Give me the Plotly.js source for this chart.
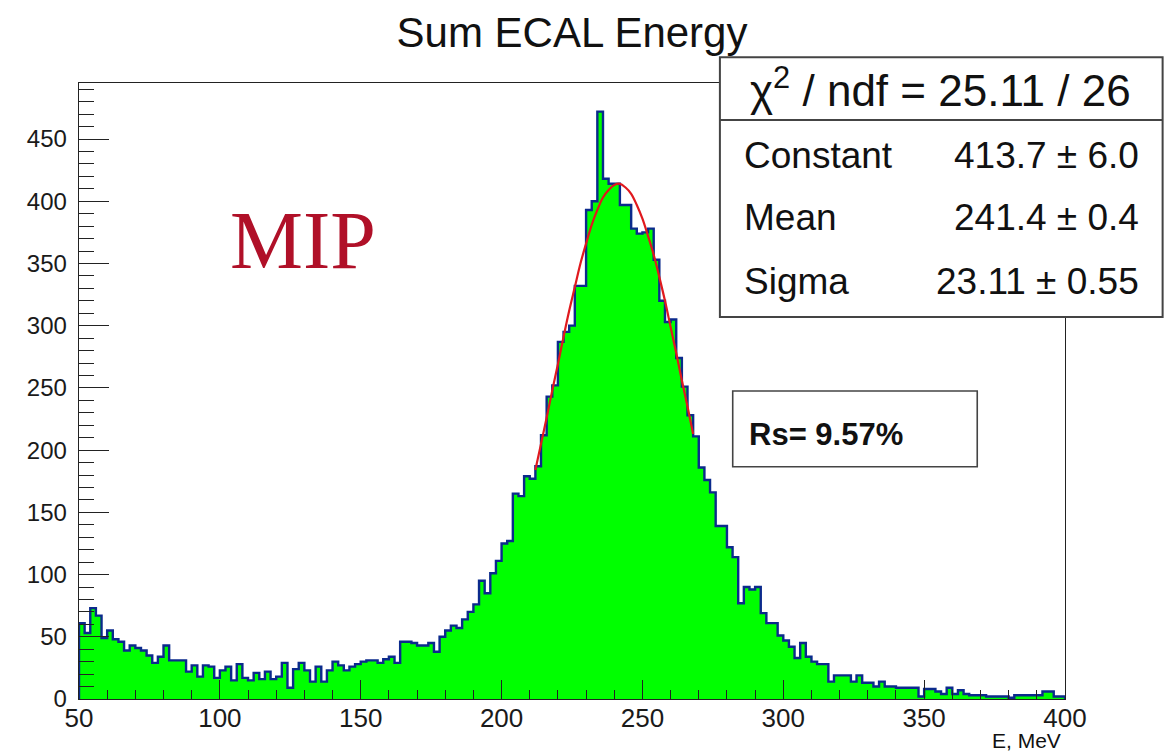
<!DOCTYPE html>
<html>
<head>
<meta charset="utf-8">
<script src="https://cdn.plot.ly/plotly-3.0.1.min.js"></script>
<style>
  html, body { margin: 0; padding: 0; background: #ffffff; }
  #chart { width: 1172px; height: 752px; }
</style>
</head>
<body>
<div id="chart"></div>
<script>
// ---- Data ----
// Histogram: 2 MeV bins from 50 to 400 MeV
const binStart = 50;
const binWidth = 2;
const counts = [
  61, 53, 73, 67, 49, 55, 48, 46, 39, 43,   // 50-68
  41, 39, 35, 29, 34, 43, 31, 31, 31, 22,   // 70-88
  27, 18, 27, 26, 17, 23, 26, 15, 28, 17,   // 90-108
  15, 21, 16, 22, 16, 18, 29, 9, 24, 29,    // 110-128
  23, 14, 26, 14, 23, 30, 27, 23, 26, 28,   // 130-148
  30, 31, 31, 29, 32, 34, 29, 46, 46, 45,   // 150-168
  43, 43, 45, 38, 50, 55, 59, 57, 64, 70,   // 170-188
  76, 95, 85, 101, 111, 125, 127, 165, 163, 179, // 190-208
  177, 187, 212, 243, 252, 287, 295, 300, 332, 332, // 210-228
  393, 400, 472, 418, 414, 414, 397, 397, 378, 374, // 230-248
  375, 378, 353, 320, 303, 305, 274, 251, 228, 211, // 250-268
  186, 176, 166, 139, 139, 122, 114, 77, 90, 88,    // 270-288
  90, 69, 61, 61, 51, 47, 42, 33, 45, 34,   // 290-308
  30, 28, 28, 14, 19, 19, 19, 14, 19, 13,   // 310-328
  13, 10, 14, 10, 10, 9, 9, 9, 9, 2,        // 330-348
  8, 8, 6, 4, 9, 4, 7, 4, 3, 3,             // 350-368
  3, 2, 2, 2, 2, 1, 3, 3, 3, 3,             // 370-388
  3, 6, 6, 2, 2                             // 390-398
];

// Gaussian fit curve
const fitEnergy = [212, 214, 216, 218, 220, 222, 224, 226, 228, 230, 232, 234, 236, 238, 240,
                   242, 244, 246, 248, 250, 252, 254, 256, 258, 260, 262, 264, 266, 268];
const fitCounts = [184, 205, 226, 248, 269, 291, 312, 331, 350, 366, 381, 393, 403, 409, 413,
                   414, 411, 406, 397, 386, 372, 357, 339, 320, 299, 278, 256, 235, 213];

// Tick labels / texts
const chartTitle = "Sum ECAL Energy";
const xAxisLabel = "E, MeV";
const statHeader = "χ<sup>2</sup> / ndf = 25.11 / 26";
const statNames = ["Constant", "Mean", "Sigma"];
const statValues = ["413.7 ± 6.0", "241.4 ± 0.4", "23.11 ± 0.55"];
const resolutionText = "<b>Rs= 9.57%</b>";
const particleLabel = "MIP";

// ---- Build step outline from bins ----
const stepX = [binStart];
const stepY = [0];
for (let i = 0; i < counts.length; i++) {
  stepX.push(binStart + i * binWidth);
  stepY.push(counts[i]);
}
const lastEdge = binStart + counts.length * binWidth;
stepX.push(lastEdge); stepY.push(counts[counts.length - 1]);
stepX.push(lastEdge); stepY.push(0);

const FONT = "Liberation Sans, Arial, Helvetica, sans-serif";

const histTrace = {
  type: "scatter",
  mode: "lines",
  x: stepX,
  y: stepY,
  line: { shape: "hv", color: "#0b2a8c", width: 2.4 },
  fill: "tozeroy",
  fillcolor: "#00ff00",
  hoverinfo: "skip",
  showlegend: false
};

const fitTrace = {
  type: "scatter",
  mode: "lines",
  x: fitEnergy,
  y: fitCounts,
  line: { shape: "spline", color: "#e0191e", width: 2.2 },
  hoverinfo: "skip",
  showlegend: false
};

// Paper coordinate helpers for the plot frame (l=79, r=1065, t=83, b=699)
const stat = { x0: 0.650, x1: 1.099, y0: 0.620, y1: 1.042, sep: 0.940 };
const rows = [0.883, 0.781, 0.677];

const annotations = [
  { text: statHeader, xref: "paper", yref: "paper", x: 0.874, y: 0.992,
    xanchor: "center", yanchor: "middle", showarrow: false,
    font: { family: FONT, size: 44, color: "#111" } }
];
for (let i = 0; i < statNames.length; i++) {
  annotations.push({ text: statNames[i], xref: "paper", yref: "paper", x: 0.672, y: rows[i],
    xanchor: "left", yanchor: "middle", showarrow: false,
    font: { family: FONT, size: 37, color: "#111" } });
  annotations.push({ text: statValues[i], xref: "paper", yref: "paper", x: 1.077, y: rows[i],
    xanchor: "right", yanchor: "middle", showarrow: false,
    font: { family: FONT, size: 37, color: "#111" } });
}
annotations.push({ text: resolutionText, xref: "paper", yref: "paper", x: 0.677, y: 0.430,
  xanchor: "left", yanchor: "middle", showarrow: false,
  font: { family: FONT, size: 31, color: "#111" } });
annotations.push({ text: particleLabel, xref: "paper", yref: "paper", x: 0.227, y: 0.745,
  xanchor: "center", yanchor: "middle", showarrow: false,
  font: { family: "Liberation Serif, Times New Roman, serif", size: 82, color: "#b01028" } });
annotations.push({ text: xAxisLabel, xref: "paper", yref: "paper", x: 0.998, y: -0.068,
  xanchor: "right", yanchor: "middle", showarrow: false,
  font: { family: FONT, size: 21, color: "#111" } });

const shapes = [
  { type: "rect", xref: "paper", yref: "paper", x0: stat.x0, x1: stat.x1, y0: stat.y0, y1: stat.y1,
    line: { color: "#444", width: 2 }, fillcolor: "#ffffff", layer: "above" },
  { type: "line", xref: "paper", yref: "paper", x0: stat.x0, x1: stat.x1, y0: stat.sep, y1: stat.sep,
    line: { color: "#444", width: 2 }, layer: "above" },
  { type: "rect", xref: "paper", yref: "paper", x0: 0.663, x1: 0.911, y0: 0.377, y1: 0.500,
    line: { color: "#444", width: 1.6 }, fillcolor: "#ffffff", layer: "above" }
];

const layout = {
  width: 1172,
  height: 752,
  paper_bgcolor: "#ffffff",
  plot_bgcolor: "#ffffff",
  margin: { l: 79, r: 107, t: 83, b: 53, pad: 0 },
  title: {
    text: chartTitle,
    font: { family: FONT, size: 42, color: "#111" },
    xref: "paper", x: 0.5, xanchor: "center",
    yref: "container", y: 0.957, yanchor: "middle"
  },
  xaxis: {
    range: [50, 400],
    tickmode: "linear", tick0: 50, dtick: 50,
    ticks: "inside", ticklen: 19, tickwidth: 1, tickcolor: "#222",
    minor: { dtick: 10, tick0: 50, ticks: "inside", ticklen: 9, tickwidth: 1, tickcolor: "#222", showgrid: false },
    showline: true, linecolor: "#222", linewidth: 1.3, mirror: true,
    showgrid: false, zeroline: false,
    tickfont: { family: FONT, size: 26, color: "#1a1a1a" },
    ticklabelstandoff: -5
  },
  yaxis: {
    range: [0, 495],
    tickmode: "linear", tick0: 0, dtick: 50,
    ticks: "inside", ticklen: 30, tickwidth: 1, tickcolor: "#222",
    minor: { dtick: 10, tick0: 0, ticks: "inside", ticklen: 15, tickwidth: 1, tickcolor: "#222", showgrid: false },
    showline: true, linecolor: "#222", linewidth: 1.3, mirror: true,
    showgrid: false, zeroline: false,
    tickfont: { family: FONT, size: 24, color: "#1a1a1a" },
    ticklabelstandoff: 6
  },
  shapes: shapes,
  annotations: annotations,
  showlegend: false
};

Plotly.newPlot("chart", [histTrace, fitTrace], layout, { staticPlot: true, displayModeBar: false });
</script>
</body>
</html>
